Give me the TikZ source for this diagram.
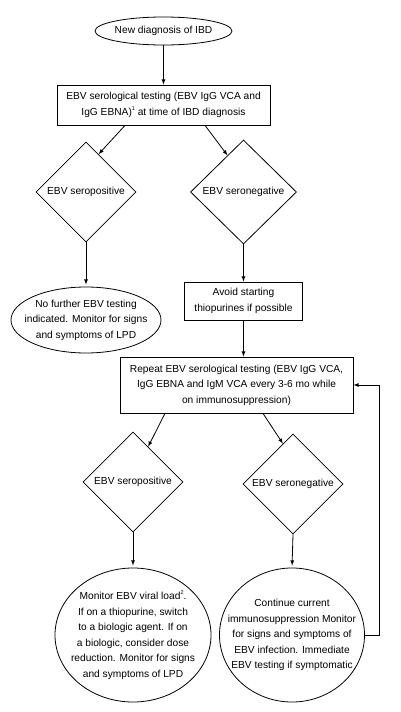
\documentclass[tikz,border=0pt]{standalone}
\usepackage{fontspec}
\setmainfont{Liberation Sans}
\usetikzlibrary{shapes.geometric,calc}
\newcommand{\fnmark}[1]{\raisebox{0.9ex}{\fontsize{5.5}{5.5}\selectfont #1}}
\tikzset{
  every node/.style={font=\fontsize{10.2}{15.5}\selectfont,align=center},
  box/.style={rectangle,draw,line width=0.8pt,inner sep=0pt},
  oval/.style={ellipse,draw,line width=0.8pt,inner ysep=0pt},
  test/.style={diamond,draw,line width=0.8pt,inner sep=0pt,minimum width=100pt,minimum height=100pt},
  line/.style={->,>=latex,line width=0.8pt},
}
\begin{document}
\begin{tikzpicture}[x=1pt,y=-1pt]
	\useasboundingbox (0,0) rectangle (400,712);
	
	%first test
	\node[oval,inner xsep=-5pt,minimum width=137pt,minimum height=28pt](newibd) at (163.5,31) {New diagnosis of IBD};
	\node[box,minimum width=213pt,minimum height=40pt](sero1) at (163.5,105) {EBV serological testing (EBV IgG VCA and\\IgG EBNA)\fnmark{1} at time of IBD diagnosis};
	\node[test](pos1) at (86,192) {EBV seropositive};
	\node[test,minimum width=106pt,minimum height=104pt](neg1) at (243.5,192) {EBV seronegative};
	\node[oval,inner xsep=-15pt,minimum width=150pt,minimum height=66pt](nofurther) at (86,320) {No further EBV testing\\indicated. Monitor for signs\\and symptoms of LPD};
	\node[box,minimum width=118pt,minimum height=38pt](avoid) at (243.5,301) {Avoid starting\\thiopurines if possible};
	%repeat test
	\node[box,minimum width=233pt,minimum height=56pt](sero2) at (236.5,385) {Repeat EBV serological testing (EBV IgG VCA,\\IgG EBNA and IgM VCA every 3-6 mo while\\on immunosuppression)};
	\node[test](pos2) at (133,482) {EBV seropositive};
	\node[test](neg2) at (293,484) {EBV seronegative};
	\node[oval,inner xsep=-24pt,minimum width=156pt,minimum height=134pt](viral) at (133,635) {Monitor EBV viral load\fnmark{2}.\\If on a thiopurine, switch\\to a biologic agent. If on\\a biologic, consider dose\\reduction. Monitor for signs\\and symptoms of LPD};
	\node[oval,inner xsep=-26pt,minimum width=145pt,minimum height=134pt](keepon) at (292,635) {Continue current\\immunosuppression Monitor\\for signs and symptoms of\\EBV infection. Immediate\\EBV testing if symptomatic};
	
	%arrows
	\draw[line] (newibd.south) -- (sero1.north);
	\draw[line] ([xshift=-38.5pt]sero1.south) -- ($(pos1.north)!0.25!(pos1.east)$);
	\draw[line] ([xshift=41.5pt]sero1.south) -- ($(neg1.north)!0.3!(neg1.west)$);
	\draw[line,shorten >=2pt] (pos1.south) -- (nofurther.north);
	\draw[line] (neg1.south) -- (avoid.north);
	\draw[line] (avoid.south) -- (avoid.south |- sero2.north);
	\draw[line] ([xshift=-71.5pt]sero2.south) -- ($(pos2.north)!0.3!(pos2.east)$);
	\draw[line] ([xshift=26.5pt]sero2.south) -- ($(neg2.north)!0.2!(neg2.west)$);
	\draw[line,shorten >=2pt] (pos2.south) -- (viral.north);
	\draw[line,shorten >=2pt] (neg2.south) -- (keepon.north);
	\draw[line] (keepon.east) -- ([xshift=14pt]keepon.east) |- (sero2.east);
\end{tikzpicture}
\end{document}
